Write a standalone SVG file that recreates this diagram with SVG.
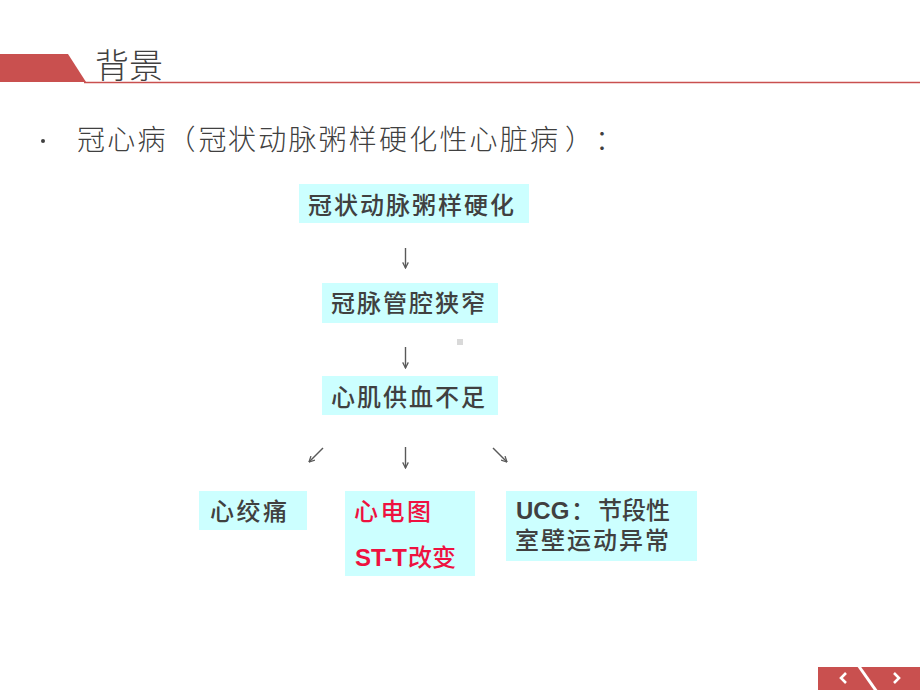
<svg xmlns="http://www.w3.org/2000/svg" width="920" height="690" viewBox="0 0 920 690">
<defs>
<style>
.cjk{font-family:"Noto Sans CJK SC","Liberation Sans",sans-serif;}
.title{font-size:34px;fill:#404040;font-weight:300;}
.bullet{font-size:28px;fill:#404040;font-weight:300;}
.box{fill:#ccffff;}
.bt{font-size:24px;fill:#404040;font-weight:500;font-family:"Liberation Sans","Noto Sans CJK SC",sans-serif;}
.red{fill:#ee1140;}
.b{font-weight:bold;}
.conn{stroke:#595959;stroke-width:1.4;fill:none;marker-end:url(#ah);}
</style>
<marker id="ah" viewBox="0 0 10 10" refX="9" refY="5" markerWidth="7" markerHeight="7" orient="auto" markerUnits="userSpaceOnUse">
<path d="M1,1 L9,5 L1,9" fill="none" stroke="#595959" stroke-width="1.8"/>
</marker>
</defs>
<rect width="920" height="690" fill="#ffffff"/>
<g id="header">
<polygon points="0,54 68,54 86,82 0,82" fill="#c9504f"/>
<line x1="84" y1="82.5" x2="920" y2="82.5" stroke="#c9504f" stroke-width="1.5"/>
<text class="cjk title" x="95" y="63" dominant-baseline="central">背景</text>
</g>
<g id="bullet-line">
<circle cx="43" cy="141" r="2" fill="#404040"/>
<text class="cjk bullet" x="77 107.2 137.4 167.6 198.5 228 258.2 288.4 318.6 348.8 379 409.2 439.4 469.6 499.8 530 565 595" y="138" dominant-baseline="central">冠心病（冠状动脉粥样硬化性心脏病）：</text>
</g>
<g id="node-atherosclerosis">
<rect class="box" x="299" y="184" width="230" height="39"/>
<text class="cjk bt" x="308" y="205" dominant-baseline="central" textLength="206" lengthAdjust="spacing">冠状动脉粥样硬化</text>
</g>
<g id="node-stenosis">
<rect class="box" x="322" y="283" width="176" height="40"/>
<text class="cjk bt" x="331" y="303" dominant-baseline="central" textLength="154" lengthAdjust="spacing">冠脉管腔狭窄</text>
</g>
<rect x="457" y="339" width="6" height="6" fill="#d9d9d9"/>
<g id="node-ischemia">
<rect class="box" x="322" y="376" width="176" height="39"/>
<text class="cjk bt" x="331" y="397" dominant-baseline="central" textLength="154" lengthAdjust="spacing">心肌供血不足</text>
</g>
<g id="node-angina">
<rect class="box" x="199" y="491" width="108" height="39"/>
<text class="cjk bt" x="210" y="511" dominant-baseline="central" textLength="77" lengthAdjust="spacing">心绞痛</text>
</g>
<g id="node-ecg">
<rect class="box" x="345" y="491" width="130" height="85"/>
<text class="cjk bt red" x="354" y="511" dominant-baseline="central" textLength="77" lengthAdjust="spacing">心电图</text>
<text class="cjk bt red" x="355" y="557" dominant-baseline="central"><tspan class="b">ST-T</tspan><tspan x="408">改变</tspan></text>
</g>
<g id="node-ucg">
<rect class="box" x="506" y="491" width="191" height="70"/>
<text class="cjk bt" x="516" y="510" dominant-baseline="central"><tspan class="b">UCG</tspan><tspan x="571">：</tspan><tspan x="598">节段性</tspan></text>
<text class="cjk bt" x="515" y="540" dominant-baseline="central" textLength="154" lengthAdjust="spacing">室壁运动异常</text>
</g>
<g id="connectors">
<line class="conn" x1="405.5" y1="248" x2="405.5" y2="268"/>
<line class="conn" x1="405.5" y1="347" x2="405.5" y2="368"/>
<line class="conn" x1="323" y1="448" x2="309" y2="462"/>
<line class="conn" x1="405.5" y1="447" x2="405.5" y2="468"/>
<line class="conn" x1="493" y1="448" x2="507" y2="462"/>
</g>
<g id="nav">
<rect x="818" y="667" width="102" height="23" fill="#c9504f"/>
<line x1="858" y1="665" x2="877" y2="692" stroke="#ffffff" stroke-width="3"/>
<path d="M846,673 L841,678 L846,683" fill="none" stroke="#ffffff" stroke-width="2.6"/>
<path d="M894,673 L899,678 L894,683" fill="none" stroke="#ffffff" stroke-width="2.6"/>
</g>
</svg>
